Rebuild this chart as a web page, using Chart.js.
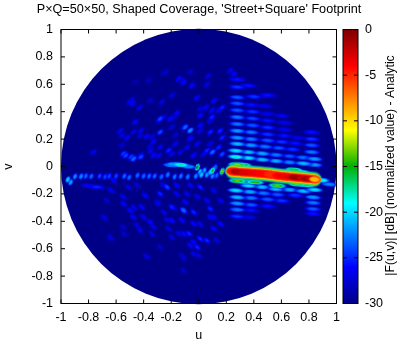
<!DOCTYPE html>
<html><head><meta charset="utf-8">
<style>html,body{margin:0;padding:0;background:#fff}
#wrap{position:relative;width:399px;height:343px;overflow:hidden}
canvas{position:absolute;top:0}</style>
<script src="https://cdn.jsdelivr.net/npm/chart.js@4/dist/chart.umd.min.js"></script>
</head><body><div id="wrap"><canvas id="main" width="399" height="343" style="left:0"></canvas><canvas id="bar" width="63" height="343" style="left:336px"></canvas></div>
<script>
const titleText = "P×Q=50×50, Shaped Coverage, 'Street+Square' Footprint";
const barLabel = "|F(u,v)| [dB] (normalized value) - Analytic";
const paletteDb = [-30,-26,-19,-15,-11,-4,0];
const paletteRGB = [[0,0,135],[0,0,255],[0,255,255],[0,175,0],[255,255,0],[255,0,0],[125,0,0]];

// main beam centre line: u, v, peak dB
const beamU = [.245,.27,.30,.33,.36,.39,.42,.45,.48,.51,.54,.57,.60,.63,.66,.69,.72,.75,.78,.81,.84];
const beamV = [-.036,-.038,-.041,-.043,-.045,-.047,-.05,-.052,-.055,-.058,-.062,-.067,-.07,-.073,-.076,-.079,-.082,-.084,-.088,-.09,-.094];
const beamDb = [-4,-1.5,-2,-3,-3,-3.5,-3.5,-4,-4,-5,-5,-4,-3.5,-3.5,-3,-1,-1,-2.5,-1,-2.5,-9];

// streaks around the beam: [u, v, dB]
const wideLobes = [
 [.28,.014,-12],[.32,.012,-14],[.535,-.03,-14],[.585,-.036,-15],[.69,-.024,-14],[.74,-.04,-16],
 [.28,-.105,-13],[.33,-.11,-15],[.41,-.115,-14],[.57,-.14,-13],[.715,-.13,-13],[.78,-.135,-15],
 [.27,.07,-18],[.36,.062,-19.5],[.46,.05,-20.5],[.56,.04,-21],[.66,.03,-22],[.76,.022,-20.5],[.84,.012,-21.5],
 [.27,.115,-19.5],[.36,.105,-20.5],[.46,.095,-21],[.56,.085,-22.5],[.66,.075,-23.5],[.76,.065,-22.5],[.84,.055,-21.5],
 [.28,.165,-20.5],[.38,.155,-21.5],[.48,.145,-22.5],[.58,.135,-23.5],[.68,.125,-24.5],[.82,.105,-22.5],
 [.28,.21,-21.5],[.38,.2,-22.5],[.5,.19,-23.5],[.6,.18,-24.5],[.7,.17,-25.5],[.82,.155,-23.5],
 [.28,.26,-21.5],[.38,.25,-22.5],[.5,.235,-24.5],[.62,.225,-25.5],[.72,.21,-26.5],[.82,.2,-24.5],
 [.28,.31,-22.5],[.39,.30,-23.5],[.5,.285,-24.5],[.62,.27,-26.5],[.82,.25,-25.5],
 [.28,.36,-22.5],[.39,.35,-24],[.5,.335,-25.5],[.62,.32,-26.5],
 [.28,.41,-23.5],[.39,.40,-24.5],[.5,.385,-26.5],[.6,.37,-26.5],
 [.28,.46,-23.5],[.38,.45,-25.5],[.48,.44,-26.5],
 [.28,.505,-23.5],[.4,.51,-24.5],[.5,.52,-25.5],[.28,.58,-24.5],[.36,.59,-25.5],[.28,.635,-25.5],
 [.36,-.14,-19.5],[.46,-.15,-20.5],[.56,-.165,-20.5],[.66,-.17,-21],[.76,-.18,-20.5],[.84,-.17,-19.5],
 [.27,-.175,-19.5],[.37,-.185,-21],[.47,-.195,-22.5],[.57,-.205,-23.5],[.7,-.21,-24.5],[.83,-.225,-21.5],
 [.28,-.225,-20.5],[.38,-.23,-22.5],[.5,-.24,-23.5],[.6,-.25,-24.5],[.83,-.265,-22.5],
 [.28,-.27,-21.5],[.38,-.28,-23.5],[.5,-.29,-25.5],[.83,-.31,-23.5],
 [.28,-.315,-22.5],[.38,-.32,-25.5],[.83,-.345,-25.5],[.28,-.365,-24.5],[.36,-.37,-26.5],
 [.89,-.10,-18],[.95,-.13,-22],
 [-.13,.012,-17.5],[-.2,.01,-20.5],[-.17,.015,-19],[-.08,.0,-21],[-.74,-.15,-25],[-.8,-.14,-26]
];
// slanted lobes, upper half
const upperLobes = [
 [-.486,.487,-27],[-.061,.689,-27.5],[-.255,.682,-28],[-.122,.628,-27],[-.049,.591,-26],[-.364,.628,-28],[-.461,.616,-28.5],
 [-.352,.482,-27.5],[-.267,.47,-27],[-.195,.519,-27],[-.013,.501,-26],[.011,.421,-27],[.096,.409,-26],[-.158,.39,-26],
 [-.28,.348,-24],[-.207,.348,-26],[-.461,.324,-26],[.096,.36,-25],[.011,.373,-26],[-.061,.263,-22],[-.098,.287,-23],
 [-.28,.251,-24],[-.474,.251,-27],[-.558,.227,-27],[-.425,.227,-27],[.084,.251,-25],[.011,.3,-26],[-.195,.287,-27],
 [-.34,.214,-27],[-.061,.202,-26],[-.352,.146,-27],[-.546,.093,-24],[-.473,.056,-23],[-.425,.081,-26],[-.328,.081,-26],
 [-.219,.117,-25],[-.134,.105,-27],[-.037,.081,-26],[.06,.117,-25],[-.558,.154,-27.5],[-.17,.227,-27.5],[.084,.166,-27],
 [-.765,.105,-26.5],[-.48,.46,-26],[-.53,.08,-24],[-.49,.07,-24],[-.42,.07,-24],[-.145,.64,-26],[-.11,.615,-26],[-.24,.69,-27.5],
 [.07,.66,-27],[.06,.6,-27],[.23,.7,-26.5],[.255,.675,-26.5],[.17,.43,-25],[.11,.48,-26],[.145,.41,-26],[.17,.21,-25],
 [.145,.14,-25],[.17,.09,-24],[.155,.26,-25],[.05,.43,-26],[.1,.105,-23],
 [-.5,.47,-26.5],[-.43,.43,-26.5],[-.57,.26,-26.5],[-.52,.21,-26.5],[-.42,.26,-26.5],[-.38,.22,-26.5],[-.33,.18,-26.5],[-.28,.14,-26.5],
 [-.255,.36,-26.5],[-.29,.335,-26.5],[-.18,.36,-26.5],[-.11,.29,-26.5],[-.06,.21,-26.5],[.01,.26,-26.5],[.085,.335,-26.5],[-.17,.165,-26.5],
 [-.01,.165,-26.5],[-.35,.115,-26.5],[-.29,.08,-26.5],[-.085,.14,-26.5],[.035,.09,-26.5],[-.195,.09,-26.5]
];
// slanted lobes, lower half
const lowerLobes = [
 [-.668,-.248,-27.5],[-.631,-.175,-27],[-.546,-.272,-26],[-.498,-.321,-26],[-.449,-.138,-27],[-.474,-.37,-26],[-.413,-.297,-26],
 [-.389,-.211,-26],[-.28,-.199,-25],[-.255,-.138,-26],[-.292,-.26,-27],[-.195,-.297,-25],[-.255,-.333,-27],[-.352,-.406,-26],
 [-.449,-.43,-27],[-.68,-.382,-27.5],[-.546,-.443,-27.5],[-.546,-.491,-27.5],[-.643,-.528,-28],[-.11,-.321,-23],[-.098,-.26,-26],
 [-.037,-.333,-25],[-.037,-.418,-26],[-.122,-.394,-26],[.084,-.309,-25],[.084,-.37,-26],[-.195,-.394,-26],[-.219,-.455,-27],
 [-.34,-.491,-27],[-.195,-.516,-27],[-.28,-.589,-27.5],[-.11,-.491,-26],[.011,-.528,-25],[-.037,-.552,-26],[-.061,-.576,-26],
 [-.122,-.649,-27.5],[-.001,-.649,-27],[-.377,-.657,-27],[.011,-.151,-25],[-.061,-.138,-26],[-.158,-.138,-26],[-.619,-.102,-26],
 [-.51,-.151,-27],[.06,-.54,-25],[-.01,-.59,-25],[-.11,-.67,-27],[.16,-.42,-26],[.11,-.37,-26],[.11,-.455,-26],[.13,-.54,-27],
 [-.11,-.76,-27.5],[-.23,-.15,-24],[-.11,-.32,-23],[-.07,-.49,-25],[-.38,-.66,-27.5],
 [-.55,-.22,-26.5],[-.47,-.3,-26.5],[-.4,-.37,-26.5],[-.33,-.44,-26.5],[-.425,-.467,-26.5],[-.3,-.27,-26.5],[-.23,-.39,-26.5],[-.16,-.2,-26.5],
 [-.18,-.3,-26.5],[-.085,-.2,-26.5],[-.01,-.22,-26.5],[.06,-.25,-26.5],[.01,-.42,-26.5],[-.145,-.49,-26.5],[-.035,-.64,-26.5],[-.64,-.175,-26.5],
 [-.69,-.37,-27],[-.64,-.515,-27],[.11,-.175,-26.5],[.16,-.25,-26.5]
];
// chain of lobes along the horizon, from the left rim to the beam
const chainLobes = [
 [-.95,-.095,-20],[-.93,-.115,-21],[-.898,-.073,-22],[-.854,-.072,-22],[-.82,-.07,-23],[-.78,-.072,-23],[-.72,-.07,-24],[-.68,-.075,-24],
 [-.65,-.07,-24],[-.6,-.07,-24],[-.54,-.07,-23],[-.505,-.08,-23],[-.445,-.065,-23],[-.4,-.07,-23],[-.36,-.07,-23],[-.32,-.07,-23],
 [-.27,-.075,-23],[-.225,-.06,-22.5],[-.175,-.075,-22.5],[-.13,-.07,-22.5],[-.08,-.075,-22.5],[-.02,-.07,-22],[.01,-.04,-20],[.04,-.03,-21],
 [.085,-.04,-19],[.12,-.005,-23],[-.01,-.005,-14],[.02,-.06,-20],[.06,-.06,-21],[.1,-.07,-22],[.13,-.065,-23],[.17,-.036,-12.5],
 [.21,-.03,-15],[.1,-.03,-15],[.87,-.095,-17],[.91,-.11,-20]
];
const tickValues = [-1,-.8,-.6,-.4,-.2,0,.2,.4,.6,.8,1];
const barTicks = [-30,-25,-20,-15,-10,-5,0];

function rgbOf(db){
  for(let i=1;i<paletteDb.length;i++) if(db<=paletteDb[i]){
    const t=Math.max(0,(db-paletteDb[i-1])/(paletteDb[i]-paletteDb[i-1]));
    const a=paletteRGB[i-1],b=paletteRGB[i];
    return a.map((c,k)=>Math.round(c+(b[k]-c)*t));
  }
  return paletteRGB[paletteRGB.length-1];
}
const jet = db => `rgb(${rgbOf(db).join(',')})`;
const toPts = list => list.map(([x,y,db])=>({x,y,db})).sort((p,q)=>p.db-q.db);
const beamPts = fixed => beamU.map((x,i)=>({x,y:beamV[i],db:fixed===undefined?beamDb[i]:fixed}));
// soft elliptical mark: colour falls through the palette towards its rim
const sprites={};
function sprite(db,hw,hh,graded){
  const key=[db,hw,hh,graded].join('/');
  if(sprites[key])return sprites[key];
  const cv=document.createElement('canvas');cv.width=Math.ceil(hw)*2;cv.height=Math.ceil(hh)*2;
  const g=cv.getContext('2d');g.translate(cv.width/2,cv.height/2);g.scale(hw,hh);
  const rg=g.createRadialGradient(0,0,0,0,0,1);
  for(let i=0;i<=10;i++){const t=i/10;
    const v=graded?-30+(db+30)*(1-t*t*.9):db;
    const al=Math.min(1,(1-t)*(graded?2.2:3));
    rg.addColorStop(t,`rgba(${rgbOf(v).join(',')},${al})`);}
  g.fillStyle=rg;g.fillRect(-1,-1,2,2);
  return sprites[key]=cv;
}
function marks(label,data,hw,hh,rot,graded){
  return {label,data,pointRadius:1,pointRotation:rot,showLine:false,borderWidth:0,
    pointStyle:c=>c.raw?sprite(c.raw.db,hw,hh,graded):'circle'};
}
function box(ctx,a){ctx.strokeStyle='#000';ctx.lineWidth=1;ctx.strokeRect(a.left,a.top,a.right-a.left,a.bottom-a.top);}
const frame={id:'frame',afterDatasetsDraw(ch){
  const {ctx,chartArea:a,scales:{x,y}}=ch;ctx.save();box(ctx,a);ctx.beginPath();
  for(const t of tickValues){const px=x.getPixelForValue(t),py=y.getPixelForValue(t);
    ctx.moveTo(px,a.bottom);ctx.lineTo(px,a.bottom-4);ctx.moveTo(px,a.top);ctx.lineTo(px,a.top+4);
    ctx.moveTo(a.left,py);ctx.lineTo(a.left+4,py);ctx.moveTo(a.right,py);ctx.lineTo(a.right-4,py);}
  ctx.stroke();
  ctx.fillStyle='#000';ctx.font='12.65px "Liberation Sans"';ctx.textAlign='center';ctx.textBaseline='middle';
  ctx.fillText(titleText,199,10);ctx.restore();}};
const labelFont={family:'"Liberation Sans"',size:12.5};
new Chart(document.getElementById('main'),{type:'scatter',
 data:{datasets:[
  marks('core',beamPts(),6,3.2,5.5,false),
  marks('red',beamPts(-4.5),7,4.4,5.5,false),
  marks('orange',beamPts(-7),7,5.2,5.5,false),
  marks('yellow',beamPts(-10.5),7,6,5.5,false),
  marks('rim',beamPts(-14),7,6.9,5.5,false),
  marks('halo',beamPts(-18),8,8.2,5.5,false),
  marks('wide',toPts(wideLobes),11,3.1,4,true),
  marks('chain',toPts(chainLobes),4.8,3,-65,true),
  marks('lower',toPts(lowerLobes),5.5,3.2,40,true),
  marks('upper',toPts(upperLobes),5.5,3.2,-40,true),
  {label:'disc',data:[{x:0,y:0}],clip:false,pointStyle:'circle',pointBorderWidth:0,borderWidth:0,
   pointBackgroundColor:jet(-30),backgroundColor:jet(-30),
   pointRadius:c=>c.chart.scales.x.getPixelForValue(1)-c.chart.scales.x.getPixelForValue(0)}
 ]},
 options:{responsive:false,animation:false,events:[],
  layout:{padding:{left:0,right:62.5,top:29.5,bottom:0}},
  plugins:{legend:{display:false},tooltip:{enabled:false},title:{display:false}},
  scales:{
   x:{type:'linear',min:-1,max:1,afterFit(s){s.height=39.5;},
      afterBuildTicks(s){s.ticks=tickValues.map(value=>({value}));},
      grid:{display:false,drawTicks:false},border:{display:false},
      ticks:{color:'#000',font:labelFont,padding:7,maxRotation:0,autoSkip:false,callback:v=>String(+(+v).toFixed(1))},
      title:{display:true,text:'u',color:'#000',font:labelFont,padding:{top:0,bottom:0}}},
   y:{type:'linear',min:-1,max:1,afterFit(s){s.width=61;},
      afterBuildTicks(s){s.ticks=tickValues.map(value=>({value}));},
      grid:{display:false,drawTicks:false},border:{display:false},
      ticks:{color:'#000',font:labelFont,padding:8,autoSkip:false,callback:v=>String(+(+v).toFixed(1))},
      title:{display:true,text:'v',color:'#000',font:labelFont,padding:{top:1,bottom:0}}}
  }},
 plugins:[frame],
});
const barFrame={id:'barFrame',afterDatasetsDraw(ch){
  const {ctx,chartArea:a,scales:{y}}=ch;ctx.save();box(ctx,a);ctx.beginPath();
  for(const t of barTicks){const py=y.getPixelForValue(t);
    ctx.moveTo(a.left,py);ctx.lineTo(a.left+4,py);ctx.moveTo(a.right,py);ctx.lineTo(a.right-4,py);}
  ctx.stroke();
  ctx.translate(54.5,y.getPixelForValue(-15)-1);ctx.rotate(-Math.PI/2);
  ctx.fillStyle='#000';ctx.font='12.2px "Liberation Sans"';ctx.textAlign='center';ctx.textBaseline='middle';
  ctx.fillText(barLabel,0,0);ctx.restore();}};
new Chart(document.getElementById('bar'),{type:'bar',
 data:{labels:['dB'],datasets:[{data:[[-30,0]],barPercentage:1,categoryPercentage:1,borderWidth:0,
   backgroundColor(c){const s=c.chart.scales.y;if(!c.chart.chartArea||!s)return '#00f';
     const g=c.chart.ctx.createLinearGradient(0,s.getPixelForValue(-30),0,s.getPixelForValue(0));
     paletteDb.forEach(d=>g.addColorStop((d+30)/30,jet(d)));return g;}}]},
 options:{responsive:false,animation:false,events:[],
  layout:{padding:{left:7,right:0,top:29.5,bottom:39.5}},
  plugins:{legend:{display:false},tooltip:{enabled:false}},
  scales:{x:{display:false},
   y:{position:'right',min:-30,max:0,afterFit(s){s.width=41;},
      afterBuildTicks(s){s.ticks=barTicks.map(value=>({value}));},
      grid:{display:false,drawTicks:false},border:{display:false},
      ticks:{color:'#000',font:labelFont,padding:7,autoSkip:false,callback:v=>String(v)}}}},
 plugins:[barFrame]});
</script></body></html>
